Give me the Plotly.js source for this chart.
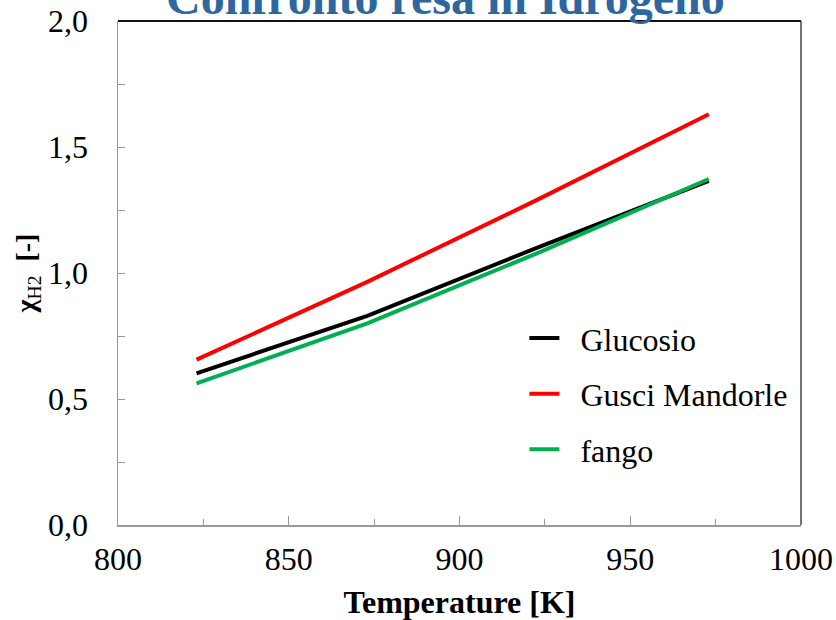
<!DOCTYPE html>
<html>
<head>
<meta charset="utf-8">
<script src="https://cdn.plot.ly/plotly-3.0.1.min.js"></script>
<style>html,body{margin:0;padding:0;background:#fff;}#chart{width:836px;height:620px;}</style>
</head>
<body>
<div id="chart"></div>
<script>
const temperature = [823, 873, 923, 973];
const glucosio = [0.602, 0.830, 1.102, 1.366];
const gusciMandorle = [0.656, 0.965, 1.292, 1.630];
const fango = [0.562, 0.800, 1.080, 1.373];
const seriesNames = ["Glucosio", "Gusci Mandorle", "fango"];
const chartTitle = "Confronto resa in Idrogeno";
const xTitle = "Temperature [K]";
const yTitle = "<b>χ</b><sub>H2</sub>  <b>[-]</b>";

const font = "Liberation Serif";
const traces = [
  {x: temperature, y: glucosio, name: seriesNames[0], color: "#000000"},
  {x: temperature, y: gusciMandorle, name: seriesNames[1], color: "#FF0000"},
  {x: temperature, y: fango, name: seriesNames[2], color: "#00B050"}
].map((s, i) => ({
  x: s.x, y: s.y, name: "\u00A0\u00A0" + s.name, type: "scatter", mode: "lines",
  line: {color: s.color, width: 4}, legendgroup: "g" + i
}));

const layout = {
  width: 836, height: 620,
  margin: {l: 118, r: 35, t: 21, b: 95},
  paper_bgcolor: "#fff", plot_bgcolor: "#fff",
  separators: ",.",
  font: {family: font, size: 28, color: "#000"},
  showlegend: true,
  legend: {
    x: 0.595, y: 0.425, xanchor: "left", yanchor: "top",
    font: {family: font, size: 32, color: "#000"},
    tracegroupgap: 11, bgcolor: "rgba(0,0,0,0)"
  },
  xaxis: {
    range: [800, 1000], dtick: 50, tick0: 800,
    ticks: "inside", ticklen: 9, tickcolor: "#999",
    minor: {dtick: 25, ticks: "inside", ticklen: 6, tickcolor: "#999"},
    showline: true, linecolor: "#999", linewidth: 1.5,
    showgrid: false, zeroline: false,
    ticklabelstandoff: 5,
    tickfont: {family: font, size: 32},
    title: {text: "<b>" + xTitle + "</b>", font: {family: font, size: 32}, standoff: 14}
  },
  yaxis: {
    range: [0, 2], dtick: 0.5, tick0: 0, tickformat: ".1f",
    ticks: "inside", ticklen: 7, tickcolor: "#999",
    minor: {dtick: 0.25, ticks: "inside", ticklen: 7, tickcolor: "#999"},
    showline: true, linecolor: "#999", linewidth: 1.5,
    showgrid: false, zeroline: false,
    ticklabelstandoff: 22,
    tickfont: {family: font, size: 32},
    title: {text: yTitle, font: {family: font, size: 28}, standoff: 4}
  },
  shapes: [
    {type: "line", xref: "paper", yref: "paper", x0: 0, x1: 1, y0: 1, y1: 1, line: {color: "#111", width: 2}},
    {type: "line", xref: "paper", yref: "paper", x0: 1, x1: 1, y0: 0, y1: 1, line: {color: "#444", width: 1.5}}
  ],
  annotations: [
    {text: "<b>" + chartTitle + "</b>", xref: "paper", yref: "paper", x: 0.48, y: 0.99,
     xanchor: "center", yanchor: "bottom", showarrow: false,
     font: {family: font, size: 48, color: "#2E67A0"}}
  ]
};

Plotly.newPlot("chart", traces, layout, {displayModeBar: false, staticPlot: true});
</script>
</body>
</html>
